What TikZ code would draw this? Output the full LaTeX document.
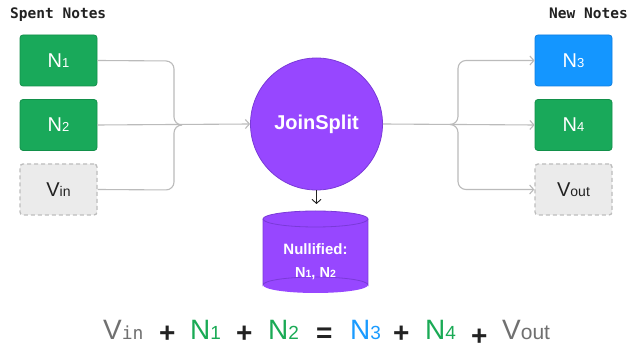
\documentclass[tikz,border=0pt]{standalone}
\usepackage{fontspec}
\setmainfont{Liberation Sans}
\newfontfamily\monofnt{DejaVu Sans Mono}
\usetikzlibrary{arrows.meta}
\definecolor{gfill}{HTML}{19A95A}
\definecolor{gborder}{HTML}{12904A}
\definecolor{bfill}{HTML}{1496FF}
\definecolor{bborder}{HTML}{0F7FE0}
\definecolor{pfill}{HTML}{9747FF}
\definecolor{pborder}{HTML}{7A3AD8}
\definecolor{grfill}{HTML}{EBEBEB}
\definecolor{grborder}{HTML}{BDBDBD}
\definecolor{linegray}{HTML}{BBBBBB}
\definecolor{txtdark}{HTML}{222222}
\definecolor{eqgray}{HTML}{707070}
\definecolor{eqgreen}{HTML}{1AAA55}
\definecolor{eqblue}{HTML}{1A9BFF}
\newcommand\fs[1]{\fontsize{#1}{#1}\selectfont}
\begin{document}
\begin{tikzpicture}[x=1pt,y=-1pt,
  note/.style={minimum width=77pt, minimum height=51pt, rounded corners=3pt, inner sep=0pt, line width=0.8pt, font=\fs{20pt}},
  greennote/.style={note, fill=gfill, draw=gborder, text=white},
  bluenote/.style={note, fill=bfill, draw=bborder, text=white},
  graynote/.style={note, fill=grfill, draw=grborder, dash pattern=on 4pt off 3pt, line width=1.3pt, text=txtdark},
  conn/.style={draw=linegray, line width=1.1pt, rounded corners=8pt},
  tip/.style={-{Straight Barb[length=4pt,width=9pt]}},
  title/.style={font=\monofnt\bfseries\fs{14.5pt}, text=txtdark, inner sep=0pt},
  eqpart/.style={anchor=base west, inner sep=0pt, font=\fs{28pt}},
  eqop/.style={eqpart, font=\bfseries\fs{28pt}, text=txtdark}
]
\useasboundingbox[fill=white] (0,0) rectangle (630,352);

% titles
\node[title, anchor=base west] (tl) at (10,18.3) {Spent Notes};
\node[title, anchor=base east] (tr) at (628,18.3) {New Notes};

% notes
\node[greennote] (N1) at (58.5,60.5) {N{\fs{13pt}1}};
\node[greennote] (N2) at (58.5,125) {N{\fs{13pt}2}};
\node[graynote] (Vin) at (58.5,189.5) {V{\fs{14pt}in}};
\node[bluenote] (N3) at (573.5,60.5) {N{\fs{13pt}3}};
\node[greennote] (N4) at (573.5,125) {N{\fs{13pt}4}};
\node[graynote] (Vout) at (573.5,189.5) {V{\fs{14pt}out}};

% JoinSplit
\node[circle, minimum size=132pt, inner sep=0pt, fill=pfill, draw=pborder, line width=0.8pt,
      text=white, font=\bfseries\fs{20pt}] (J) at (316.5,124) {JoinSplit};

% cylinder
\fill[pfill] (263,219) rectangle (368,285);
\fill[pfill] (315.5,285) ellipse [x radius=52.5pt, y radius=8pt];
\draw[pborder, line width=0.8pt] (263,219) -- (263,285) arc[start angle=180, end angle=360, x radius=52.5pt, y radius=-8pt] -- (368,219);
\filldraw[fill=pfill, draw=pborder, line width=0.8pt] (315.5,219) ellipse [x radius=52.5pt, y radius=8pt];
\node[text=white, font=\bfseries\fs{15pt}, anchor=base, inner sep=0pt] (nul1) at (315.5,255) {Nullified:};
\node[text=white, font=\bfseries\fs{14.5pt}, anchor=base, inner sep=0pt] (nul2) at (315.5,277.7) {N{\fs{10.5pt}1}, N{\fs{10.5pt}2}};
\coordinate (cyltop) at (316.5,204);

% connectors left
\coordinate (mL) at (182,125);
\draw[conn] (N1.east) -- (174,61) -- (174,125) -- (mL);
\draw[conn] (Vin.east) -- (174,190) -- (174,125) -- (mL);
\draw[conn, tip] (N2.east) -- (J.west);

% connectors right
\coordinate (mR) at (450,124.5);
\draw[conn, tip] (J.east) -- (N4.west);
\draw[conn, tip] (mR) -- (458,124.5) -- (458,60.5) -- (N3.west);
\draw[conn, tip] (mR) -- (458,124.5) -- (458,189.5) -- (Vout.west);

% down arrow
\draw[draw=txtdark, line width=0.9pt, -{Straight Barb[length=4pt,width=9pt]}] (J.south) -- (cyltop);

% equation
\node[eqpart, text=eqgray] (e1) at (103,340) {V{\monofnt\fs{18pt}in}};
\node[eqop] (e2) at (159,343) {+};
\node[eqpart, text=eqgreen] (e3) at (190,340) {N{\fs{19pt}1}};
\node[eqop] (e4) at (236,343) {+};
\node[eqpart, text=eqgreen] (e5) at (268,340) {N{\fs{19pt}2}};
\node[eqop] (e6) at (316,343) {=};
\node[eqpart, text=eqblue] (e7) at (350,340) {N{\fs{19pt}3}};
\node[eqop] (e8) at (393,343) {+};
\node[eqpart, text=eqgreen] (e9) at (425,340) {N{\fs{19pt}4}};
\node[eqop] (e10) at (471,346) {+};
\node[eqpart, text=eqgray] (e11) at (502,340) {V{\fs{21pt}out}};
\end{tikzpicture}
\end{document}
